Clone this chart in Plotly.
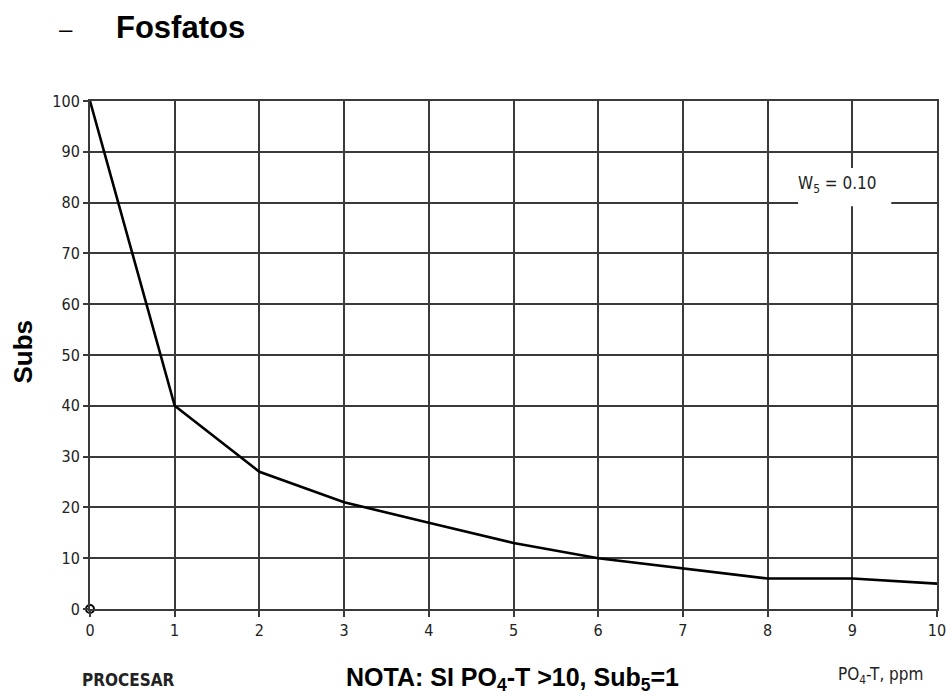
import plotly.graph_objects as go

# Data
po4_ppm = [0, 1, 2, 3, 4, 5, 6, 7, 8, 9, 10]
subs_values = [100, 40, 27, 21, 17, 13, 10, 8, 6, 6, 5]
x_ticks = [0, 1, 2, 3, 4, 5, 6, 7, 8, 9, 10]
y_ticks = [0, 10, 20, 30, 40, 50, 60, 70, 80, 90, 100]
origin_x = [0]
origin_y = [0]

NARROW = "Liberation Sans Narrow, Arial Narrow, DejaVu Sans Condensed, sans-serif"
ARIAL = "Liberation Sans, Arial, sans-serif"
GRID = "#3a3a3a"

fig = go.Figure()
fig.add_trace(go.Scatter(
    x=po4_ppm, y=subs_values, mode="lines",
    line=dict(color="black", width=2.6), showlegend=False, hoverinfo="skip",
))
fig.add_trace(go.Scatter(
    x=origin_x, y=origin_y, mode="markers", cliponaxis=False,
    marker=dict(symbol="circle", size=8, color="white", line=dict(color="black", width=2)),
    showlegend=False, hoverinfo="skip",
))

fig.update_xaxes(
    range=[0, 10], tickvals=x_ticks, ticktext=[str(v) for v in x_ticks],
    showgrid=True, gridcolor=GRID, gridwidth=2,
    showline=True, linecolor=GRID, linewidth=2, mirror=True,
    ticks="outside", ticklen=6, tickwidth=2, tickcolor=GRID,
    tickfont=dict(family=NARROW, size=16, color="#222"),
    zeroline=False, fixedrange=True, automargin=False,
)
fig.update_yaxes(
    range=[0, 100], tickvals=y_ticks, ticktext=[str(v) for v in y_ticks],
    showgrid=True, gridcolor=GRID, gridwidth=2,
    showline=True, linecolor=GRID, linewidth=2, mirror=True,
    ticks="outside", ticklen=5, tickwidth=2, tickcolor=GRID,
    tickfont=dict(family=NARROW, size=16, color="#222"),
    zeroline=False, fixedrange=True, automargin=False,
)

# white box behind the weight label
fig.add_shape(type="rect", xref="x", yref="y", x0=8.36, x1=9.46, y0=79.3, y1=86.8,
              fillcolor="white", line=dict(width=0), layer="above")

annotations = [
    dict(text="–", x=-0.028, y=1.142, xref="paper", yref="paper", showarrow=False,
         xanchor="center", yanchor="middle", font=dict(family=ARIAL, size=24, color="black")),
    dict(text="<b>Fosfatos</b>", x=0.028, y=1.144, xref="paper", yref="paper", showarrow=False,
         xanchor="left", yanchor="middle", font=dict(family=ARIAL, size=31, color="black")),
    dict(text="<b>Subs</b>", x=-0.079, y=0.507, xref="paper", yref="paper", textangle=-90,
         showarrow=False,
         xanchor="center", yanchor="middle", font=dict(family=ARIAL, size=26, color="black")),
    dict(text="W<sub>5</sub> = 0.10", x=8.825, y=83.5, xref="x", yref="y", showarrow=False,
         xanchor="center", yanchor="middle", font=dict(family=NARROW, size=17, color="#222")),
    dict(text="<b>PROCESAR</b>", x=0.045, y=-0.14, xref="paper", yref="paper", showarrow=False,
         xanchor="center", yanchor="middle", font=dict(family=NARROW, size=17, color="#222")),
    dict(text="<b>NOTA: SI PO<sub>4</sub>-T &gt;10, Sub<sub>5</sub>=1</b>", x=0.499, y=-0.138,
         xref="paper", yref="paper", xanchor="center", yanchor="middle", showarrow=False,
         font=dict(family=ARIAL, size=25, color="black")),
    dict(text="PO<sub>4</sub>-T, ppm", x=0.933, y=-0.13, xref="paper", yref="paper",
         showarrow=False,
         xanchor="center", yanchor="middle", font=dict(family=NARROW, size=17, color="#222")),
]

fig.update_layout(
    width=948, height=696,
    margin=dict(l=90, r=11, t=101, b=87),
    paper_bgcolor="white", plot_bgcolor="white",
    annotations=annotations, showlegend=False,
)

fig.write_html(
    "out.html",
    config={"displayModeBar": False},
    post_script="document.body.style.margin='0';document.body.style.overflow='hidden';",
)
